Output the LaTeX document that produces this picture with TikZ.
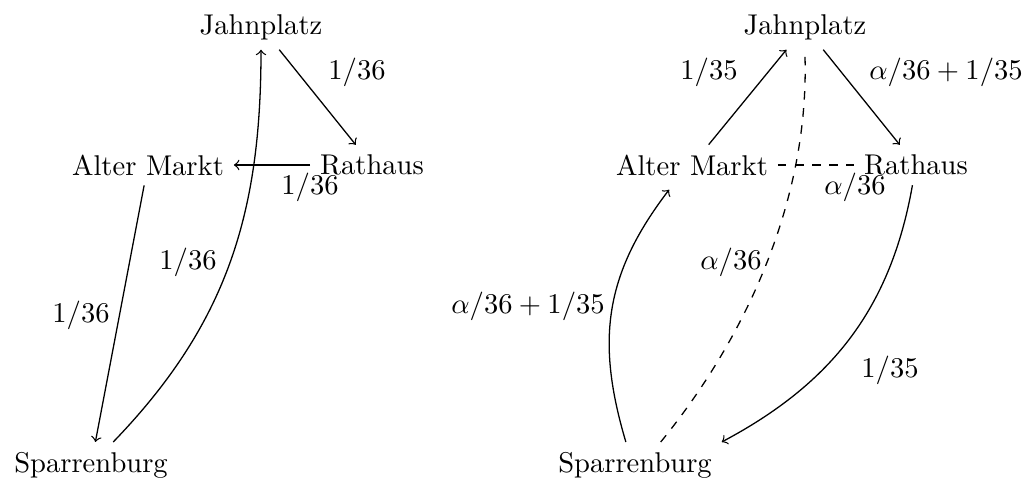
\documentclass[tikz,border=0pt]{standalone}
\usepackage{tikz}
\begin{document}
\begin{tikzpicture}[x=0.35pt,y=-0.35pt,
  place/.style={inner sep=3.3pt},
  lbl/.style={inner sep=0pt},
  link/.style={->,line width=0.45pt},
  dlink/.style={dashed,line width=0.45pt}]
\useasboundingbox (0,0) rectangle (1023,483);
% left diagram
\node[place] (J1) at (261,27) {Jahnplatz};
\node[place] (A1) at (148,165) {Alter Markt};
\node[place] (R1) at (372,165) {Rathaus};
\node[place] (S1) at (91,465) {Sparrenburg};
\draw[link] (J1) -- (R1);
\draw[link] (R1) -- (A1);
\draw[link] (A1) -- (S1);
\draw[link] (S1) to[out=46,in=-90] (J1);
\node[lbl] (l1) at (357,72) {$1/36$};
\node[lbl] (l2) at (310,187) {$1/36$};
\node[lbl] (l3) at (81,315) {$1/36$};
\node[lbl] (l4) at (188,262) {$1/36$};
% right diagram
\node[place] (J2) at (805,27) {Jahnplatz};
\node[place] (A2) at (692,165) {Alter Markt};
\node[place] (R2) at (916,165) {Rathaus};
\node[place] (S2) at (635,465) {Sparrenburg};
\draw[link] (A2) -- (J2);
\draw[link] (J2) -- (R2);
\draw[dlink] (A2) -- (R2);
\draw[dlink] ([xshift=9pt]S2.north) .. controls +(88,-108) and +(4,140) .. ([yshift=-2.5pt]J2.south);
\draw[link] (R2) to[out=-100,in=28] (S2.north east);
\draw[link] ([xshift=-3.2pt]S2.north) .. controls +(-30,-101) and +(-65,85) .. ([xshift=-8pt,yshift=-1.5pt]A2.south);
\node[lbl] (r1) at (709,72) {$1/35$};
\node[lbl] (r2) at (946,72) {$\alpha/36+1/35$};
\node[lbl] (r3) at (855,187) {$\alpha/36$};
\node[lbl] (r4) at (731,262) {$\alpha/36$};
\node[lbl] (r5) at (890,370) {$1/35$};
\node[lbl] (r6) at (528,306) {$\alpha/36+1/35$};
\end{tikzpicture}
\end{document}
